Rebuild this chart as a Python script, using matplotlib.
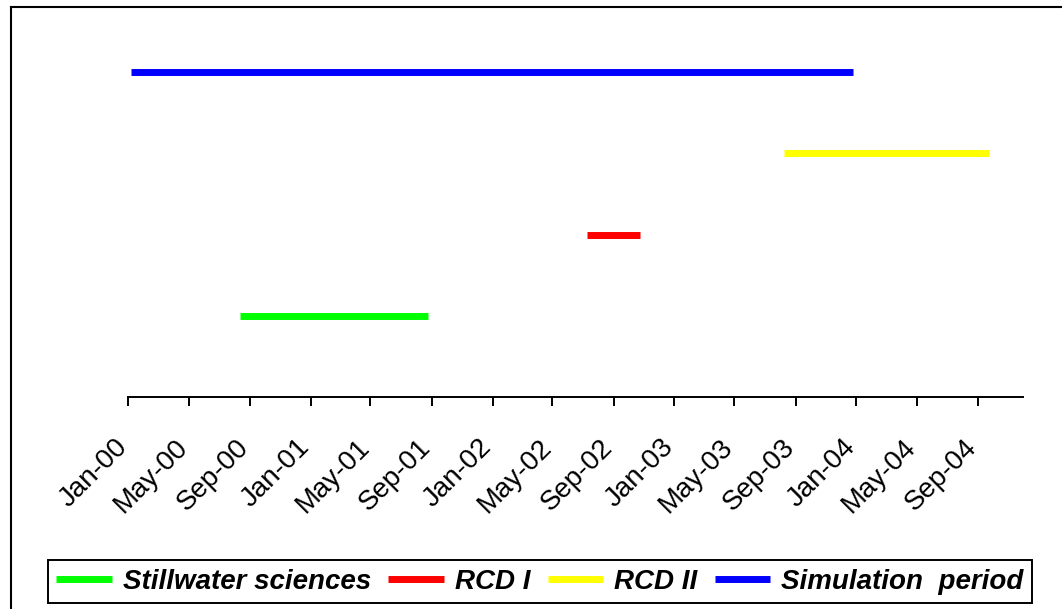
import datetime as dt

import matplotlib
matplotlib.use('Agg')
import matplotlib.pyplot as plt
import matplotlib.dates as mdates
import matplotlib.transforms as mtransforms
from matplotlib.lines import Line2D

plt.rcParams['font.family'] = ['Liberation Sans', 'DejaVu Sans']

# one horizontal bar per data source / period
series = ['Stillwater sciences', 'RCD I', 'RCD II', 'Simulation  period']
colors = ['#00ff00', '#ff0000', '#ffff00', '#0000ff']
levels = [1, 2, 3, 4]
starts = [dt.date(2000, 8, 13), dt.date(2002, 7, 10), dt.date(2003, 8, 9), dt.date(2000, 1, 7)]
ends = [dt.date(2001, 8, 24), dt.date(2002, 10, 24), dt.date(2004, 9, 24), dt.date(2003, 12, 25)]

W, H = 1062, 609
fig = plt.figure(figsize=(W / 100, H / 100), dpi=100)
ax = fig.add_axes([128.3 / W, (H - 396.7) / H, (1023.3 - 128.3) / W, (396.7 - 31.75) / H])

for name, c, lev, s, e in zip(series, colors, levels, starts, ends):
    ax.plot([s, e], [lev, lev], color=c, lw=5, solid_capstyle='butt', label=name)

ax.set_xlim(dt.date(2000, 1, 1), dt.date(2004, 12, 1))
ax.set_ylim(0, 4.5)
ax.xaxis.set_major_locator(mdates.MonthLocator(bymonth=(1, 5, 9)))
ax.xaxis.set_major_formatter(mdates.DateFormatter('%b-%y'))
for sp in ['left', 'right', 'top']:
    ax.spines[sp].set_visible(False)
ax.spines['bottom'].set_linewidth(1.4)
ax.set_yticks([])
ax.tick_params(axis='x', direction='out', length=6.5, width=1.4, pad=27,
               labelsize=20, labelrotation=45)
shift = mtransforms.ScaledTranslation(-5 / 100, 0, fig.dpi_scale_trans)
for lab in ax.get_xticklabels():
    lab.set_ha('right')
    lab.set_va('center')
    lab.set_rotation_mode('anchor')
    lab.set_transform(lab.get_transform() + shift)

leg = fig.legend(loc='lower left', bbox_to_anchor=(48 / W, 6 / H, 984 / W, 50 / H),
                 mode='expand', ncol=4, borderaxespad=0,
                 prop={'size': 20, 'weight': 'bold', 'style': 'italic'},
                 handlelength=2, handletextpad=0.4, columnspacing=0.6,
                 borderpad=0.3, fancybox=False, edgecolor='black', framealpha=1)
leg.get_frame().set_linewidth(1.4)

# outer frame: only left and top edges are drawn
fig.add_artist(Line2D([11 / W, 11 / W], [0, (H - 7) / H], color='black', lw=1.5))
fig.add_artist(Line2D([11 / W, 1], [(H - 7) / H, (H - 7) / H], color='black', lw=1.5))

fig.savefig('out.png', dpi=100)
